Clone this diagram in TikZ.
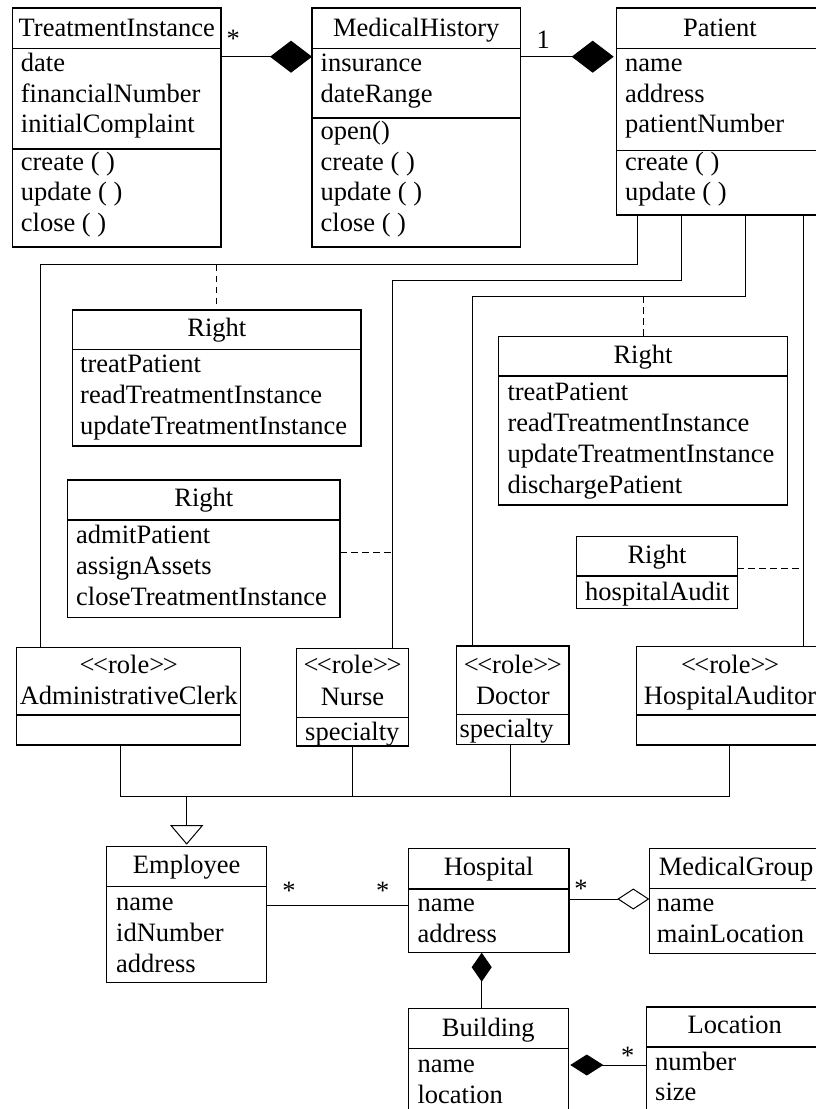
\documentclass[tikz,border=0pt]{standalone}
\usepackage{fontspec}
\newfontfamily\umlfont{Liberation Serif}
\usetikzlibrary{arrows.meta}

% class box from (x1,y1) to (x2,y2), y growing downwards
\newcommand\classbox[5]{\node[umlbox, minimum width={#4-#2}, minimum height={#5-#3}] (#1) at (#2,#3) {};}
% compartment separator at height #2
\newcommand\divider[2]{\draw[umlline] (#1.west |- 0,#2) -- (#1.east |- 0,#2);}
% centred class name and left aligned entries
\newcommand\cname[4]{\node[ttl] (#1) at (#2,#3) {#4};}
\newcommand\fld[4]{\node[txt] (#1) at (#2,#3) {#4};}
\newcommand\stereo[1]{<\kern-1.5pt<#1>\kern-1.5pt>}

\begin{document}
\begin{tikzpicture}[x=1pt, y=-1pt,
  umlline/.style={line width=1.3pt},
  umlbox/.style={draw, line width=1.3pt, inner sep=0pt, outer sep=0pt, anchor=north west},
  txt/.style={inner sep=0pt, anchor=base west, font=\umlfont\fontsize{26.5}{30}\selectfont},
  ttl/.style={inner sep=0pt, anchor=base, font=\umlfont\fontsize{26.5}{30}\selectfont},
  link/.style={line width=1pt},
  dep/.style={line width=1pt, dash pattern=on 6.5pt off 4.5pt},
  comp/.style={link, -{Diamond[length=42pt, width=32pt]}},
  gen/.style={link, -{Triangle[open, length=19.5pt, width=33pt]}, shorten >=2pt}]

\useasboundingbox (0,0) rectangle (816,1109);
\clip (0,0) rectangle (816,1109);
\fill[white] (0,0) rectangle (816,1109);

% ---------- domain classes ----------
\classbox{ti}{12.7}{8}{221}{247}
\divider{ti}{48.7} \divider{ti}{149}
\cname{ti-n}{116.8}{36}{TreatmentInstance}
\fld{ti-a1}{20.7}{71.5}{date}
\fld{ti-a2}{20.7}{102}{financialNumber}
\fld{ti-a3}{20.7}{132.5}{initialComplaint}
\fld{ti-m1}{20.7}{170}{create ( )}
\fld{ti-m2}{20.7}{200.5}{update ( )}
\fld{ti-m3}{20.7}{231}{close ( )}

\classbox{mh}{312}{8}{520.7}{247}
\divider{mh}{48.7} \divider{mh}{118}
\cname{mh-n}{416.3}{36}{MedicalHistory}
\fld{mh-a1}{320.5}{71.5}{insurance}
\fld{mh-a2}{320.5}{102}{dateRange}
\fld{mh-m1}{320.5}{139.5}{open()}
\fld{mh-m2}{320.5}{170}{create ( )}
\fld{mh-m3}{320.5}{200.5}{update ( )}
\fld{mh-m4}{320.5}{231}{close ( )}

\classbox{pat}{616.7}{8}{823}{215}
\divider{pat}{48.5} \divider{pat}{150.7}
\cname{pat-n}{720}{36}{Patient}
\fld{pat-a1}{625}{71.5}{name}
\fld{pat-a2}{625}{102}{address}
\fld{pat-a3}{625}{132.5}{patientNumber}
\fld{pat-m1}{625}{170}{create ( )}
\fld{pat-m2}{625}{200.5}{update ( )}

% ---------- rights ----------
\classbox{ra}{72.7}{310}{361}{446}
\divider{ra}{349.3}
\cname{ra-n}{216.9}{336}{Right}
\fld{ra-a1}{80}{372}{treatPatient}
\fld{ra-a2}{80}{403}{readTreatmentInstance}
\fld{ra-a3}{80}{434}{updateTreatmentInstance}

\classbox{rb}{67.7}{480}{340}{617.3}
\divider{rb}{520}
\cname{rb-n}{203.9}{506.5}{Right}
\fld{rb-a1}{76}{543.5}{admitPatient}
\fld{rb-a2}{76}{574.5}{assignAssets}
\fld{rb-a3}{76}{605.5}{closeTreatmentInstance}

\classbox{rc}{498.7}{336.7}{787.3}{505}
\divider{rc}{376}
\cname{rc-n}{643}{363.3}{Right}
\fld{rc-a1}{507.3}{400}{treatPatient}
\fld{rc-a2}{507.3}{431}{readTreatmentInstance}
\fld{rc-a3}{507.3}{462}{updateTreatmentInstance}
\fld{rc-a4}{507.3}{493}{dischargePatient}

\classbox{rd}{576.7}{536.7}{737.3}{608.7}
\divider{rd}{576}
\cname{rd-n}{657}{563}{Right}
\fld{rd-a1}{585}{600}{hospitalAudit}

% ---------- roles ----------
\classbox{ac}{16.7}{647.3}{240.7}{745}
\divider{ac}{715}
\cname{ac-s}{128.7}{673}{\stereo{role}}
\cname{ac-n}{128.7}{704}{AdministrativeClerk}

\classbox{nu}{296.7}{648.3}{408.3}{746}
\divider{nu}{717.3}
\cname{nu-s}{352.5}{673}{\stereo{role}}
\cname{nu-n}{352.5}{705}{Nurse}
\fld{nu-a1}{305}{740}{specialty}

\classbox{dr}{456.7}{646}{569}{744.3}
\divider{dr}{714.3}
\cname{dr-s}{512.8}{673}{\stereo{role}}
\cname{dr-n}{512.8}{704}{Doctor}
\fld{dr-a1}{459.3}{737.5}{specialty}

\classbox{au}{636.7}{646.7}{823}{745}
\divider{au}{715}
\cname{au-s}{730}{673}{\stereo{role}}
\cname{au-n}{730}{704}{HospitalAuditor}

% ---------- organisation ----------
\classbox{emp}{106.7}{846.7}{266.7}{982.7}
\divider{emp}{886.7}
\cname{emp-n}{186.7}{873.5}{Employee}
\fld{emp-a1}{116}{910}{name}
\fld{emp-a2}{116}{941}{idNumber}
\fld{emp-a3}{116}{972}{address}

\classbox{hos}{408.3}{848.3}{569}{952.7}
\divider{hos}{889}
\cname{hos-n}{488.7}{875}{Hospital}
\fld{hos-a1}{417.3}{911}{name}
\fld{hos-a2}{417.3}{942}{address}

\classbox{mg}{649.3}{848.3}{823}{953.3}
\divider{mg}{888.5}
\cname{mg-n}{736.2}{875}{MedicalGroup}
\fld{mg-a1}{656.7}{911}{name}
\fld{mg-a2}{656.7}{942}{mainLocation}

\classbox{bld}{408.3}{1008.3}{568.3}{1125}
\divider{bld}{1048.3}
\cname{bld-n}{488.3}{1036.5}{Building}
\fld{bld-a1}{417.3}{1072}{name}
\fld{bld-a2}{417.3}{1103}{location}

\classbox{loc}{646.7}{1007}{823}{1125}
\divider{loc}{1047}
\cname{loc-n}{734.8}{1033.5}{Location}
\fld{loc-a1}{655}{1070}{number}
\fld{loc-a2}{655}{1100}{size}

% ---------- associations ----------
\draw[comp] (ti.east |- 0,56.7) -- (mh.west |- 0,56.7);
\draw[comp, shorten >=3pt] (mh.east |- 0,56.7) -- (pat.west |- 0,56.7);
\cname{m-ti}{233.3}{47.6}{*}
\cname{m-mh}{543.3}{48}{1}

% patient to roles, with their rights
\draw[link] (pat.south -| 637.3,0) |- (40.7,264.7) -- (ac.north -| 40.7,0);
\draw[dep] (ra.north |- 0,264.7) -- (ra.north);
\draw[link] (pat.south -| 681,0) |- (392.7,280.7) -- (nu.north -| 392.7,0);
\draw[dep] (rb.east |- 0,552.7) -- (392.7,552.7);
\draw[link] (pat.south -| 745,0) |- (472.7,296) -- (dr.north -| 472.7,0);
\draw[dep] (rc.north |- 0,296) -- (rc.north);
\draw[link] (pat.south -| 803.3,0) -- (au.north -| 803.3,0);
\draw[dep] (rd.east |- 0,568.3) -- (803.3,568.3);

% roles generalise to employee
\draw[link] (ac.south -| 120.7,0) |- (729,796.7) -- (au.south -| 729,0);
\draw[link] (nu.south -| 352.7,0) -- (352.7,796.7);
\draw[link] (dr.south -| 510.7,0) -- (510.7,796.7);
\draw[gen] (emp.north |- 0,796.7) -- (emp.north);

\draw[link] (emp.east |- 0,905) -- (hos.west |- 0,905);
\cname{m-emp}{289}{899}{*}
\cname{m-hos}{382.7}{899}{*}

\draw[link, -{Diamond[open, length=32pt, width=21pt]}] (hos.east |- 0,899) -- (mg.west |- 0,899);
\cname{m-mg}{581}{897}{*}

\draw[link, -{Diamond[length=29pt, width=20pt]}] (bld.north -| 481.7,0) -- (hos.south -| 481.7,0);

\draw[link, -{Diamond[length=33pt, width=21pt]}, shorten >=2pt] (loc.west |- 0,1065) -- (bld.east |- 0,1065);
\cname{m-loc}{627.7}{1064}{*}
\end{tikzpicture}
\end{document}
